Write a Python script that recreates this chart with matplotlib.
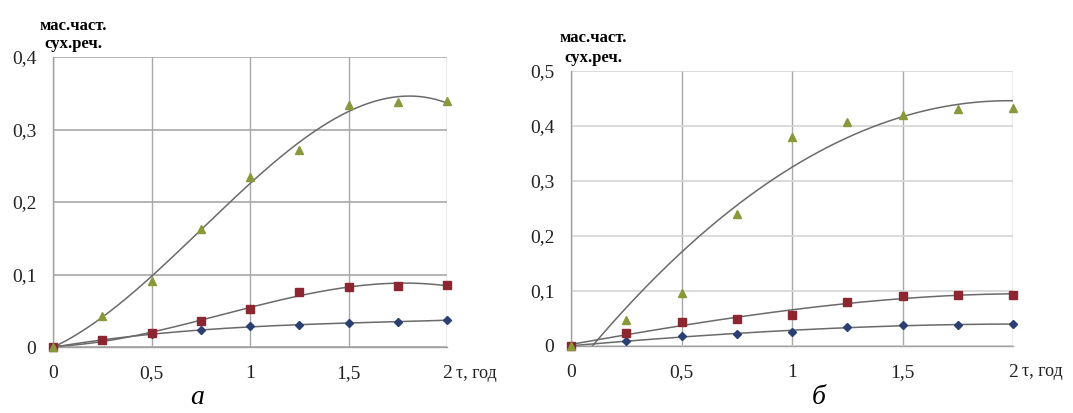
import numpy as np
import matplotlib
matplotlib.use("Agg")
import matplotlib.pyplot as plt
import matplotlib.transforms as mtransforms

plt.rcParams['font.family'] = ['Liberation Serif', 'DejaVu Serif']

tau = [0, 0.25, 0.5, 0.75, 1.0, 1.25, 1.5, 1.75, 2.0]

# panel а
a_tri = [0, 0.043, 0.091, 0.163, 0.234, 0.272, 0.334, 0.338, 0.339]
a_sq = [0, 0.010, 0.019, 0.036, 0.052, 0.076, 0.083, 0.084, 0.086]
a_dia = [0, 0.009, 0.018, 0.023, 0.029, 0.030, 0.033, 0.035, 0.037]

# panel б
b_tri = [0, 0.048, 0.096, 0.240, 0.380, 0.407, 0.420, 0.431, 0.433]
b_sq = [0, 0.023, 0.044, 0.049, 0.056, 0.080, 0.091, 0.093, 0.093]
b_dia = [0, 0.009, 0.018, 0.022, 0.026, 0.035, 0.038, 0.038, 0.040]

a_yticks = [0, 0.1, 0.2, 0.3, 0.4]
a_ylabels = ['0', '0,1', '0,2', '0,3', '0,4']
b_yticks = [0, 0.1, 0.2, 0.3, 0.4, 0.5]
b_ylabels = ['0', '0,1', '0,2', '0,3', '0,4', '0,5']
xticks = [0, 0.5, 1, 1.5, 2]
xlabels = ['0', '0,5', '1', '1,5', '2']

c_tri = '#8a973a'
c_sq = '#8c2630'
c_dia = '#2b3f73'
c_line = '#6a6a6a'

fig = plt.figure(figsize=(10.73, 4.13), dpi=100)
ax1 = fig.add_axes([53/1073, 1-347/413, 394/1073, 290/413])
ax2 = fig.add_axes([571/1073, 1-346/413, 442/1073, 275/413])


def trend(ax, x, y, deg):
    p = np.polyfit(x, y, deg)
    xs = np.linspace(0, 2, 300)
    ax.plot(xs, np.polyval(p, xs), color=c_line, lw=1.1, zorder=2)


def panel(ax, tri, sq, dia, yticks, ylabels, ymax, hgrid, vgrid, degs):
    ax.set_xlim(0, 2)
    ax.set_ylim(0, ymax)
    for s in ['top', 'right']:
        ax.spines[s].set_visible(False)
    for s in ['left', 'bottom']:
        ax.spines[s].set_color('#a0a0a0')
        ax.spines[s].set_linewidth(1.0)
    ax.set_yticks(yticks)
    ax.set_yticklabels(ylabels)
    ax.set_xticks(xticks)
    ax.set_xticklabels(xlabels)
    ax.tick_params(length=0, labelsize=14, colors='#222222')
    ax.tick_params(axis='y', pad=12)
    ax.tick_params(axis='x', pad=13)
    ax.yaxis.grid(True, color=hgrid, lw=1.2)
    ax.xaxis.grid(True, color=vgrid, lw=1.0)
    ax.set_axisbelow(True)
    trend(ax, tau, tri, degs[0])
    trend(ax, tau, sq, degs[1])
    trend(ax, tau, dia, degs[2])
    ax.plot(tau, dia, 'D', color=c_dia, ms=4, zorder=3, clip_on=False)
    ax.plot(tau, sq, 's', color=c_sq, ms=5.5, zorder=3, clip_on=False)
    ax.plot(tau, tri, '^', color=c_tri, ms=5.5, zorder=3, clip_on=False)
    off = mtransforms.offset_copy(ax.transAxes, fig=fig, x=9, y=-26, units='dots')
    ax.text(1.0, 0.0, 'τ, год', transform=off, ha='left', va='center',
            fontsize=13, color='#222222')


panel(ax1, a_tri, a_sq, a_dia, a_yticks, a_ylabels, 0.4, '#a8a8a8', '#a8a8a8', (3, 3, 3))
panel(ax2, b_tri, b_sq, b_dia, b_yticks, b_ylabels, 0.5, '#d4d4d4', '#a8a8a8', (2, 3, 3))

fig.text(73/1073, 1-26/413, 'мас.част.', ha='center', va='center', fontsize=12, fontweight='bold')
fig.text(73/1073, 1-44/413, 'сух.реч.', ha='center', va='center', fontsize=12, fontweight='bold')
fig.text(593/1073, 1-38/413, 'мас.част.', ha='center', va='center', fontsize=12, fontweight='bold')
fig.text(593/1073, 1-58/413, 'сух.реч.', ha='center', va='center', fontsize=12, fontweight='bold')

fig.text(197/1073, 1-398/413, 'а', ha='center', va='center', fontsize=20, style='italic')
fig.text(819/1073, 1-397/413, 'б', ha='center', va='center', fontsize=20, style='italic')

fig.savefig('out.png', dpi=100)
